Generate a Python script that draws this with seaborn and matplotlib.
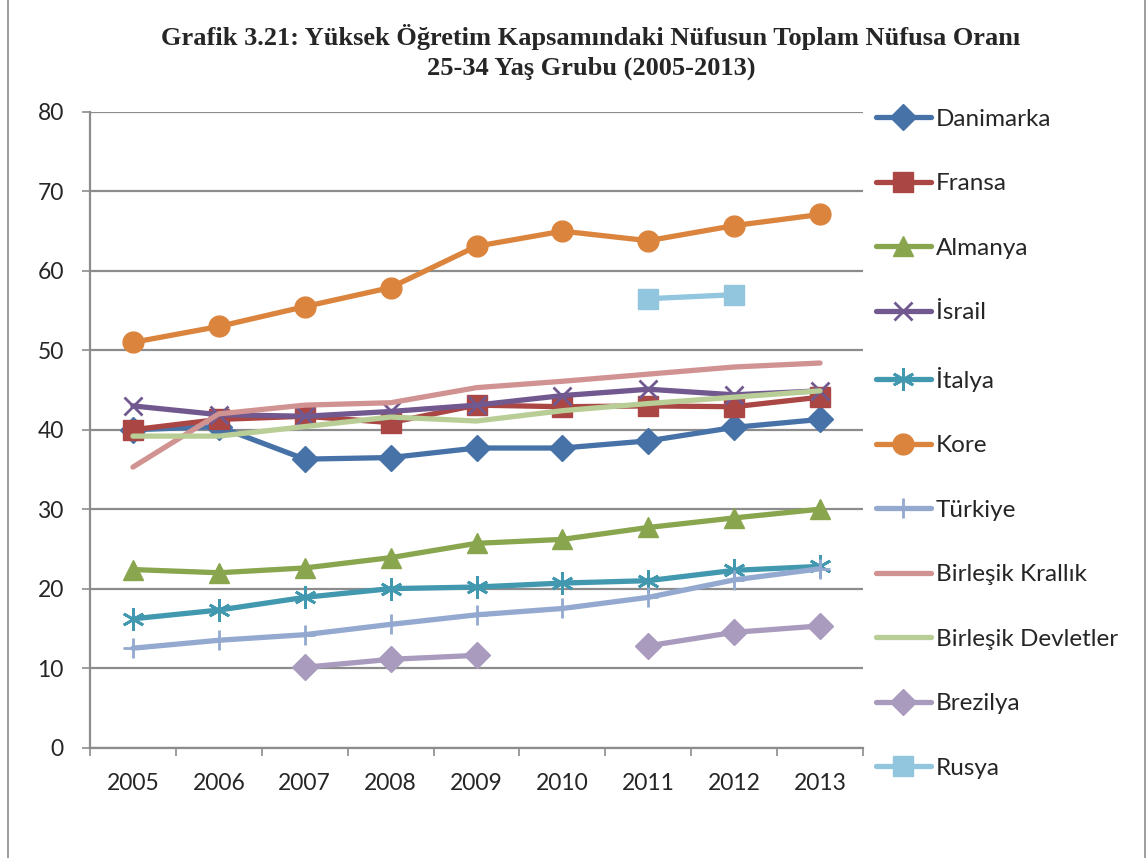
import numpy as np
import pandas as pd
import matplotlib
matplotlib.use('Agg')
import matplotlib.pyplot as plt
import matplotlib.lines as mlines
import seaborn as sns

# veriler (%)
years = ['2005', '2006', '2007', '2008', '2009', '2010', '2011', '2012', '2013']
nan = np.nan

danimarka = [40.0, 40.4, 36.3, 36.5, 37.7, 37.7, 38.6, 40.3, 41.3]
fransa = [40.0, 41.3, 41.7, 40.9, 43.1, 42.9, 43.0, 42.9, 44.1]
almanya = [22.4, 22.0, 22.6, 23.9, 25.7, 26.2, 27.7, 28.9, 30.0]
israil = [43.0, 41.9, 41.7, 42.3, 43.1, 44.3, 45.1, 44.4, 44.9]
italya = [16.2, 17.3, 18.9, 20.0, 20.2, 20.7, 21.0, 22.3, 22.8]
kore = [51.0, 53.0, 55.5, 57.9, 63.1, 65.0, 63.8, 65.7, 67.1]
turkiye = [12.5, 13.5, 14.2, 15.5, 16.7, 17.5, 18.9, 21.1, 22.5]
birlesik_krallik = [35.3, 42.0, 43.1, 43.4, 45.3, 46.1, 47.0, 47.9, 48.4]
birlesik_devletler = [39.2, 39.2, 40.4, 41.6, 41.1, 42.4, 43.3, 44.1, 44.9]
brezilya = [nan, nan, 10.1, 11.1, 11.6, nan, 12.8, 14.5, 15.3]
rusya = [nan, nan, nan, nan, nan, nan, 56.5, 57.0, nan]

series = [
    ('Danimarka', danimarka, '#4672A8', 'D', 13.5),
    ('Fransa', fransa, '#AA4643', 's', 14),
    ('Almanya', almanya, '#89A54E', '^', 14.5),
    ('İsrail', israil, '#71588F', 'x', 13),
    ('İtalya', italya, '#4198AF', (6, 2, 0), 16),
    ('Kore', kore, '#DB843D', 'o', 15),
    ('Türkiye', turkiye, '#93A9CF', '+', 15),
    ('Birleşik Krallık', birlesik_krallik, '#D19392', None, 0),
    ('Birleşik Devletler', birlesik_devletler, '#B9CD96', None, 0),
    ('Brezilya', brezilya, '#A99BBD', 'D', 13.5),
    ('Rusya', rusya, '#92C5DE', 's', 14),
]

sns.set_theme(style='white')
plt.rcParams['font.family'] = ['Lato', 'DejaVu Sans']

W, H = 1148, 858
fig = plt.figure(figsize=(W / 100, H / 100), dpi=100)
ax = fig.add_axes([90 / W, 1 - 747.5 / H, 773 / W, 635.5 / H])

x = np.arange(len(years))
for name, vals, color, marker, ms in series:
    df = pd.DataFrame({'x': x, 'y': vals})
    # boşluklarda çizgiyi kes
    ok = df['y'].notna()
    seg = df['y'].isna().cumsum()
    first = True
    for _, part in df[ok].groupby(seg[ok]):
        mew = 2 if marker in ('x', '+', (6, 2, 0)) else 1
        sns.lineplot(data=part, x='x', y='y', ax=ax, color=color,
                     linewidth=3.8, marker=marker, markersize=ms,
                     markeredgecolor=color, markeredgewidth=mew,
                     label=name if first else '_nolegend_', legend=False)
        first = False

ax.set_xlim(-0.5, len(years) - 0.5)
ax.set_ylim(0, 80)
ax.set_yticks(range(0, 81, 10))
ax.set_xticks(x)
ax.set_xticklabels(years)
ax.set_xticks(np.arange(-0.5, len(years), 1), minor=True)
ax.set_xlabel('')
ax.set_ylabel('')
ax.yaxis.grid(True, color='#8C8C8C', linewidth=1.6)
ax.set_axisbelow(True)
for s in ['top', 'right']:
    ax.spines[s].set_visible(False)
for s in ['left', 'bottom']:
    ax.spines[s].set_color('#8C8C8C')
    ax.spines[s].set_linewidth(1.6)
ax.tick_params(axis='y', which='major', left=True, length=5.8, color='#8C8C8C',
               width=1.2, labelsize=16.5, pad=13)
ax.tick_params(axis='x', which='major', bottom=False, labelsize=16.5, pad=12)
ax.tick_params(axis='x', which='minor', bottom=True, length=5.8, color='#8C8C8C',
               width=1.2)

title_font = ['Liberation Serif', 'DejaVu Serif']
fig.text(591 / W, 1 - 37 / H,
         'Grafik 3.21: Yüksek Öğretim Kapsamındaki Nüfusun Toplam Nüfusa Oranı',
         ha='center', va='center', fontsize=19, fontweight='bold',
         family=title_font)
fig.text(591 / W, 1 - 68 / H, '25-34 Yaş Grubu (2005-2013)',
         ha='center', va='center', fontsize=19, fontweight='bold',
         family=title_font)

handles, labels = ax.get_legend_handles_labels()
fig.legend(handles, labels, loc='upper left',
           bbox_to_anchor=(866 / W, 1 - 99 / H), frameon=False,
           fontsize=17.5, handlelength=2.26, handletextpad=0.2,
           labelspacing=1.79, borderaxespad=0)

# grafik alanı çerçevesi (sol ve sağ kenar)
for xpos in (8, 1145):
    fig.add_artist(mlines.Line2D([xpos / W, xpos / W], [0, 1],
                                 transform=fig.transFigure,
                                 color='#8C8C8C', linewidth=1.2))

fig.savefig('out.png', dpi=100)
